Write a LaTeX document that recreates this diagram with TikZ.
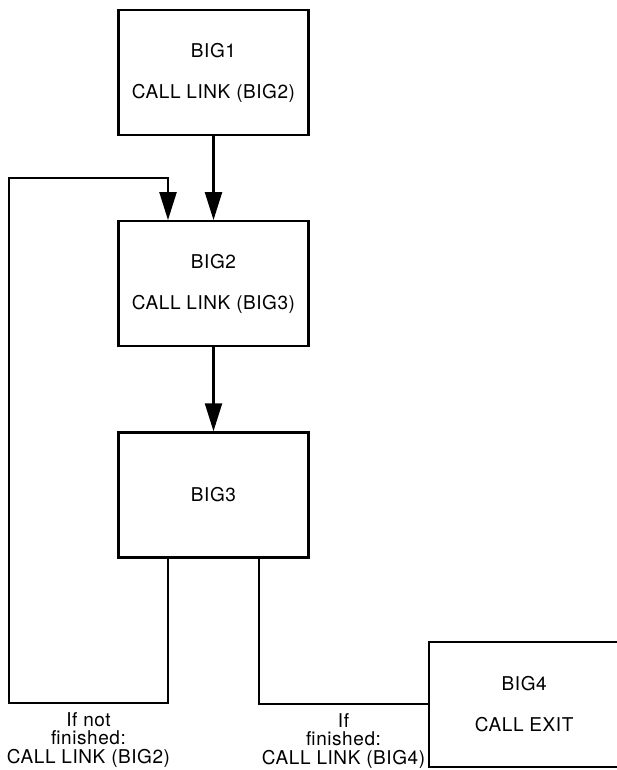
\documentclass[tikz,border=0pt]{standalone}
\usepackage{fontspec}
\setmainfont{TeX Gyre Heros}[LetterSpace=3]
\usetikzlibrary{arrows.meta, positioning}

\begin{document}
\begin{tikzpicture}[x=1pt, y=1pt, node distance=84pt, >={Triangle[length=28pt,width=17pt]},
    block/.style={rectangle, draw, line width=2.2pt, minimum width=190pt, minimum height=125pt, align=center, font=\fontsize{19}{41}\selectfont},
    note/.style={align=center, font=\fontsize{19}{18.5}\selectfont, inner sep=2pt},
    arrow/.style={line width=2.2pt,->},
    wire/.style={line width=2.2pt}
]
    \useasboundingbox (0,0) rectangle (617,-770);

    % Place nodes
    \node [block] at (213.5,-72.5) (big1) {BIG1\\CALL LINK (BIG2)};
    \node [block, below=of big1] (big2) {BIG2\\CALL LINK (BIG3)};
    \node [block, below=of big2] (big3) {BIG3};
    \node [block, below right=82pt and 118.5pt of big3] (big4) {BIG4\\CALL EXIT};
    \coordinate (loopB) at (9,-703);
    \coordinate (loopT) at (9,-178);

    % Draw edges
    \draw [arrow] (big1) -- (big2);
    \draw [arrow] (big2) -- (big3);
    \draw [arrow] ([xshift=-45.5pt]big3.south) |- node [note, below=6pt, pos=0.75] (notfin) {If not\\finished:\\CALL LINK (BIG2)} (loopB) -- (loopT) -| ([xshift=-45.5pt]big2.north);
    \draw [wire] ([xshift=45.5pt]big3.south) |- node [note, below=6pt, pos=0.75] (fin) {If\\finished:\\CALL LINK (BIG4)} (big4.west);
\end{tikzpicture}
\end{document}
